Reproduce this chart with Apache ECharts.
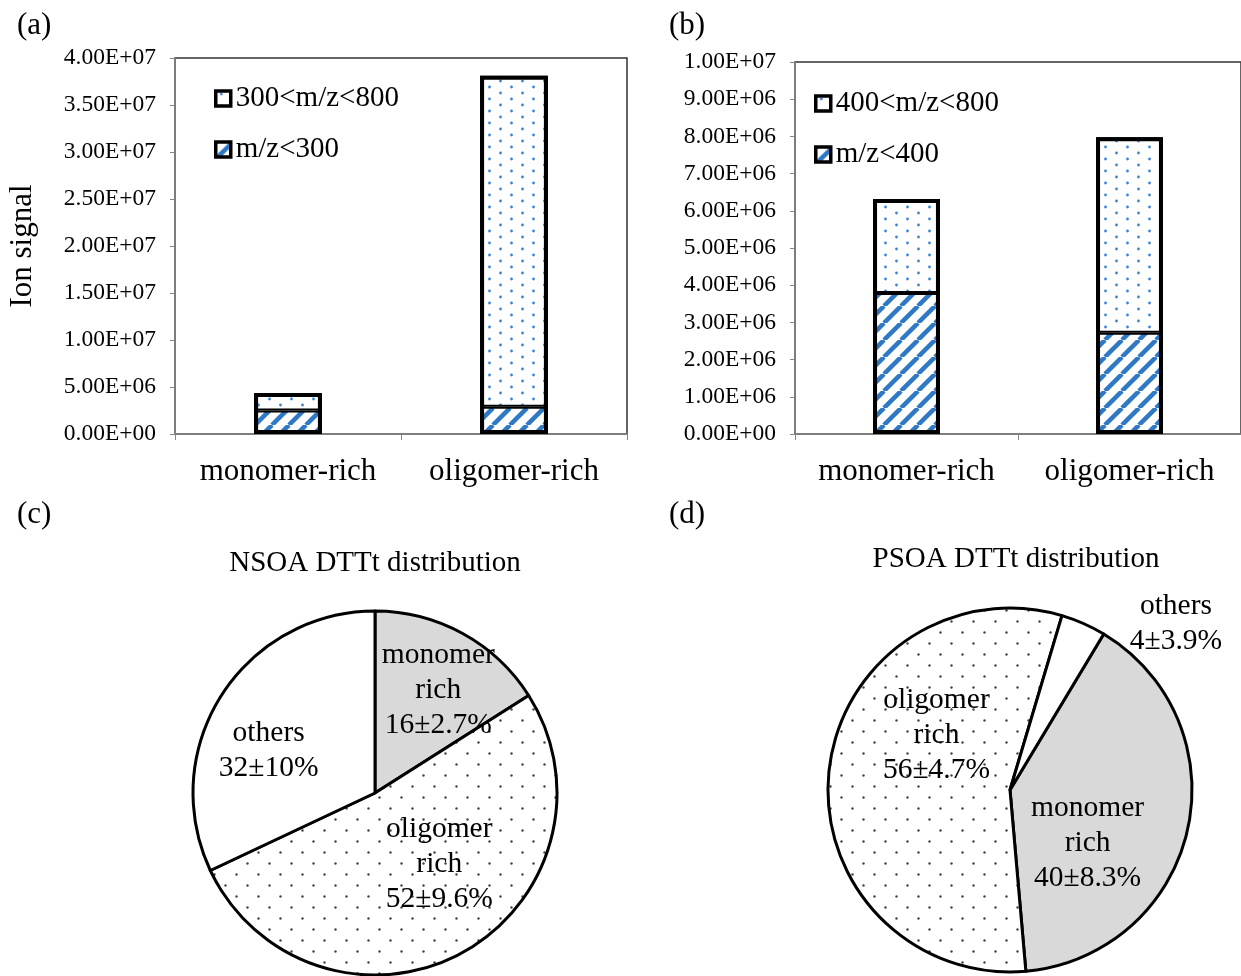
<!DOCTYPE html>
<html>
<head>
<meta charset="utf-8">
<script src="https://cdn.jsdelivr.net/npm/echarts@6/dist/echarts.min.js"></script>
<style>
  html, body { margin: 0; padding: 0; background: #fff; }
  #main { width: 1241px; height: 976px; }
</style>
</head>
<body>
<div id="main"></div>
<script>
// ---- data ----
const categories = ["monomer-rich", "oligomer-rich"];

// panel (a)
const aNames = ["300<m/z<800", "m/z<300"];
const aLow = [2.5e6, 2.9e6];   // m/z<300
const aHigh = [1.85e6, 35.2e6]; // 300<m/z<800
const aMax = 4e7, aStep = 5e6;

// panel (b)
const bNames = ["400<m/z<800", "m/z<400"];
const bLow = [3.79e6, 2.72e6];  // m/z<400
const bHigh = [2.53e6, 5.26e6]; // 400<m/z<800
const bMax = 1e7, bStep = 1e6;

// panels (c), (d)
const pieLabels = ["monomer\nrich", "oligomer\nrich", "others"];
const nsoaShare = [16, 52, 32];
const nsoaErr = ["2.7", "9.6", "10"];
const psoaShare = [40, 56, 4];
const psoaErr = ["8.3", "4.7", "3.9"];

const FONT = "'Liberation Serif', 'Times New Roman', serif";

// ---- fill patterns ----
function dotTile(color, w, h, r) {
  const c = document.createElement("canvas");
  c.width = w;
  c.height = h;
  const g = c.getContext("2d");
  g.fillStyle = "#fff";
  g.fillRect(0, 0, w, h);
  g.fillStyle = color;
  [[w / 4, h / 4], [w * 3 / 4, h * 3 / 4]].forEach(function (p) {
    g.beginPath();
    g.arc(p[0], p[1], r, 0, Math.PI * 2);
    g.fill();
  });
  return c;
}

function stripeTile(color, size, w) {
  const c = document.createElement("canvas");
  c.width = c.height = size;
  const g = c.getContext("2d");
  g.fillStyle = "#fff";
  g.fillRect(0, 0, size, size);
  g.strokeStyle = color;
  g.lineWidth = w;
  [-size, 0, size].forEach(function (k) {
    g.beginPath();
    g.moveTo(k, size);
    g.lineTo(k + size, 0);
    g.stroke();
  });
  return c;
}

const blueDots = { image: dotTile("#3d84cf", 22, 12, 1.4), repeat: "repeat" };
const blueStripes = { image: stripeTile("#2f78c4", 17, 4.5), repeat: "repeat" };
const greyDots = { image: dotTile("#444", 22, 22, 1.2), repeat: "repeat" };

function sciLabel(v) {
  if (v === 0) return "0.00E+00";
  const s = v.toExponential(2).split("e");
  const e = parseInt(s[1], 10);
  return s[0] + "E" + (e < 0 ? "-" : "+") + String(Math.abs(e)).padStart(2, "0");
}

function xAxisCfg(idx) {
  return {
    type: "category",
    gridIndex: idx,
    data: categories,
    axisLine: { lineStyle: { color: "#868686", width: 1.5 } },
    axisTick: { show: true, length: 6, lineStyle: { color: "#868686" } },
    axisLabel: { color: "#000", fontFamily: FONT, fontSize: 31, margin: 22, interval: 0, hideOverlap: false }
  };
}

function yAxisCfg(idx, max, step, name) {
  return {
    type: "value",
    gridIndex: idx,
    min: 0,
    max: max,
    interval: step,
    name: name,
    nameLocation: "middle",
    nameRotate: 90,
    nameGap: 137,
    nameTextStyle: { color: "#000", fontFamily: FONT, fontSize: 31 },
    splitLine: { show: false },
    axisLine: { show: true, lineStyle: { color: "#868686", width: 1.5 } },
    axisTick: { show: true, length: 5, lineStyle: { color: "#868686" } },
    axisLabel: { color: "#000", fontFamily: FONT, fontSize: 23.5, margin: 19, formatter: sciLabel }
  };
}

function barSeries(name, data, fill, idx) {
  return {
    type: "bar",
    name: name,
    xAxisIndex: idx,
    yAxisIndex: idx,
    stack: "s" + idx,
    data: data,
    barWidth: "30%",
    barGap: "-100%",
    itemStyle: { color: fill, borderColor: "#000", borderWidth: 2 }
  };
}

// outline of the whole stacked column, drawn on top
function outlineSeries(low, high, idx) {
  return {
    type: "bar",
    name: "outline" + idx,
    xAxisIndex: idx,
    yAxisIndex: idx,
    data: low.map(function (v, i) { return v + high[i]; }),
    barWidth: "30%",
    barGap: "-100%",
    z: 5,
    silent: true,
    itemStyle: { color: "rgba(0,0,0,0)", borderColor: "#000", borderWidth: 4 }
  };
}

function pieData(shares, errs, fills) {
  return shares.map(function (v, i) {
    return {
      name: pieLabels[i],
      value: v,
      label: { formatter: pieLabels[i] + "\n" + v + "\u00b1" + errs[i] + "%" },
      itemStyle: { color: fills[i] }
    };
  });
}

function pieSeries(center, startAngle, data, offsets) {
  return {
    type: "pie",
    center: center,
    radius: 182,
    startAngle: startAngle,
    clockwise: true,
    silent: true,
    data: data,
    itemStyle: { borderColor: "#000", borderWidth: 3 },
    label: {
      position: "inside",
      color: "#000",
      fontFamily: FONT,
      fontSize: 29.5,
      lineHeight: 35,
      align: "center"
    },
    labelLine: { show: false },
    labelLayout: function (p) {
      const o = offsets[p.dataIndex];
      return { dx: o[0], dy: o[1] };
    }
  };
}

const chart = echarts.init(document.getElementById("main"), null, { renderer: "canvas" });

const panelTitle = function (text, left, top) {
  return { text: text, left: left, top: top,
    textStyle: { fontFamily: FONT, fontSize: 31, fontWeight: "normal", color: "#000" } };
};
const pieTitle = function (text, cx, top) {
  return { text: text, left: cx, top: top, textAlign: "center",
    textStyle: { fontFamily: FONT, fontSize: 29, fontWeight: "normal", color: "#000" } };
};

const legendCfg = function (names, left, top) {
  return {
    data: names,
    orient: "vertical",
    left: left,
    top: top,
    itemGap: 22,
    itemWidth: 15,
    itemHeight: 15,
    icon: "rect",
    itemStyle: { borderColor: "#000", borderWidth: 3.5 },
    textStyle: { fontFamily: FONT, fontSize: 29, color: "#000" }
  };
};

const option = {
  animation: false,
  backgroundColor: "#fff",
  title: [
    panelTitle("(a)", 12, 5),
    panelTitle("(b)", 664, 5),
    panelTitle("(c)", 12, 494),
    panelTitle("(d)", 664, 494),
    pieTitle("NSOA DTTt distribution", 370, 544),
    pieTitle("PSOA DTTt distribution", 1011, 540)
  ],
  legend: [legendCfg(aNames, 209, 79), legendCfg(bNames, 809, 84)],
  grid: [
    { left: 175, top: 58, width: 452, height: 376, show: true, borderColor: "#333", borderWidth: 1.5 },
    { left: 795, top: 62, width: 456, height: 372, show: true, borderColor: "#333", borderWidth: 1.5 }
  ],
  xAxis: [xAxisCfg(0), xAxisCfg(1)],
  yAxis: [yAxisCfg(0, aMax, aStep, "Ion signal"), yAxisCfg(1, bMax, bStep, "")],
  series: [
    barSeries(aNames[1], aLow, blueStripes, 0),
    barSeries(aNames[0], aHigh, blueDots, 0),
    outlineSeries(aLow, aHigh, 0),
    barSeries(bNames[1], bLow, blueStripes, 1),
    barSeries(bNames[0], bHigh, blueDots, 1),
    outlineSeries(bLow, bHigh, 1),
    pieSeries([375, 793], 90, pieData(nsoaShare, nsoaErr, ["#d9d9d9", greyDots, "#fff"]),
      [[18, -20], [19, -11], [-27, 8]]),
    pieSeries([1010, 790], 59, pieData(psoaShare, psoaErr, ["#d9d9d9", greyDots, "#fff"]),
      [[-14, 32], [20, -45], [128, -80]])
  ]
};

chart.setOption(option);
</script>
</body>
</html>
